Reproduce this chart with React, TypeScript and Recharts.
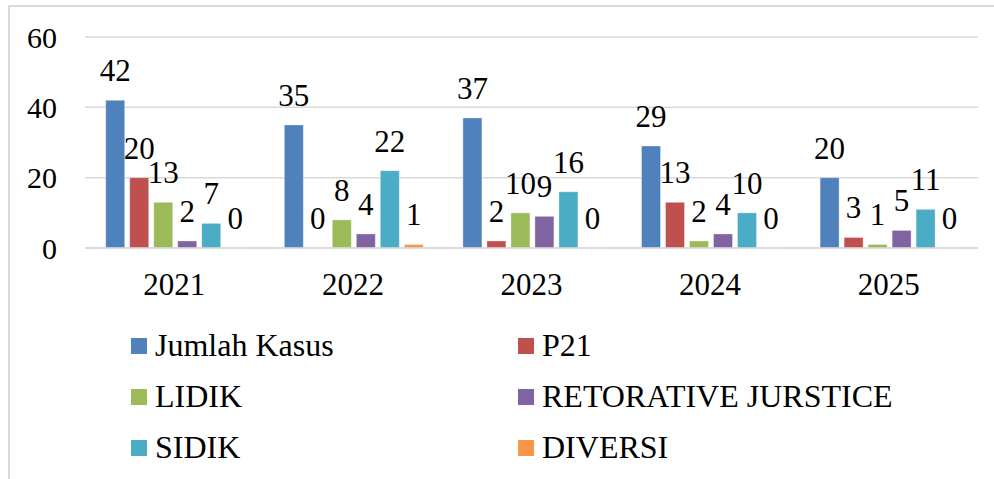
import React from 'react';
import { BarChart, Bar, XAxis, YAxis, CartesianGrid, LabelList } from 'recharts';

const years = ['2021', '2022', '2023', '2024', '2025'];
const jumlahKasus = [42, 35, 37, 29, 20];
const p21 = [20, 0, 2, 13, 3];
const lidik = [13, 8, 10, 2, 1];
const retorative = [2, 4, 9, 4, 5];
const sidik = [7, 22, 16, 10, 11];
const diversi = [0, 1, 0, 0, 0];
const yTicks = [0, 20, 40, 60];

const seriesNames = ['Jumlah Kasus', 'P21', 'LIDIK', 'RETORATIVE JURSTICE', 'SIDIK', 'DIVERSI'];
const seriesKeys = ['jumlah', 'p21', 'lidik', 'rj', 'sidik', 'diversi'];
const seriesColors = ['#4F81BD', '#C0504D', '#9BBB59', '#8064A2', '#4BACC6', '#F79646'];
const seriesValues = [jumlahKasus, p21, lidik, retorative, sidik, diversi];

const data = years.map((y, i) => {
  const row: Record<string, string | number> = { year: y };
  seriesKeys.forEach((k, s) => {
    row[k] = seriesValues[s][i];
    row[k + '_lbl'] = String(seriesValues[s][i]);
  });
  return row;
});

const FONT = 'Liberation Serif';

export default function App() {
  return (
    <div
      style={{
        position: 'absolute',
        left: 0,
        top: 0,
        width: 994,
        height: 479,
        background: '#fff',
        overflow: 'hidden',
        fontFamily: FONT,
      }}
    >
      <div
        style={{
          position: 'absolute',
          left: 8,
          top: 5,
          width: 1000,
          height: 500,
          borderTop: '2px solid #d9d9d9',
          borderLeft: '2px solid #d9d9d9',
        }}
      />
      <div style={{ position: 'absolute', left: 0, top: 0 }}>
        <BarChart
          width={994}
          height={479}
          data={data}
          margin={{ top: 37, right: 16, left: 25, bottom: 181 }}
          barCategoryGap="11.6%"
          barGap={5}
        >
          <CartesianGrid vertical={false} stroke="#d9d9d9" strokeWidth={1.5} />
          <XAxis
            dataKey="year"
            height={50}
            tickLine={false}
            tickSize={0}
            tickMargin={25}
            axisLine={{ stroke: '#d9d9d9', strokeWidth: 1.5 }}
            tick={{ fill: '#000', fontSize: 31, fontFamily: FONT }}
          />
          <YAxis
            width={60}
            domain={[0, 60]}
            ticks={yTicks}
            axisLine={false}
            tickLine={false}
            tickSize={0}
            tickMargin={28}
            tick={{ fill: '#000', fontSize: 30, fontFamily: FONT }}
          />
          {seriesKeys.map((k, s) => (
            <Bar
              key={k}
              dataKey={k}
              name={seriesNames[s]}
              fill={seriesColors[s]}
              stroke="rgba(255,255,255,0.35)"
              strokeWidth={1}
              minPointSize={0.01}
              isAnimationActive={false}
            >
              <LabelList
                dataKey={k + '_lbl'}
                position="top"
                offset={19}
                fill="#000"
                fontSize={31}
                fontFamily={FONT}
              />
            </Bar>
          ))}
        </BarChart>
      </div>
      <div
        style={{
          position: 'absolute',
          left: 131,
          top: 320,
          display: 'grid',
          gridTemplateColumns: '387px 420px',
          gridAutoRows: '51px',
          fontFamily: FONT,
          fontSize: 32,
          color: '#000',
        }}
      >
        {seriesNames.map((n, s) => (
          <div key={n} style={{ display: 'flex', alignItems: 'center', whiteSpace: 'nowrap' }}>
            <span
              style={{
                display: 'inline-block',
                width: 16,
                height: 16,
                background: seriesColors[s],
                marginRight: 8,
              }}
            />
            <span>{n}</span>
          </div>
        ))}
      </div>
    </div>
  );
}
